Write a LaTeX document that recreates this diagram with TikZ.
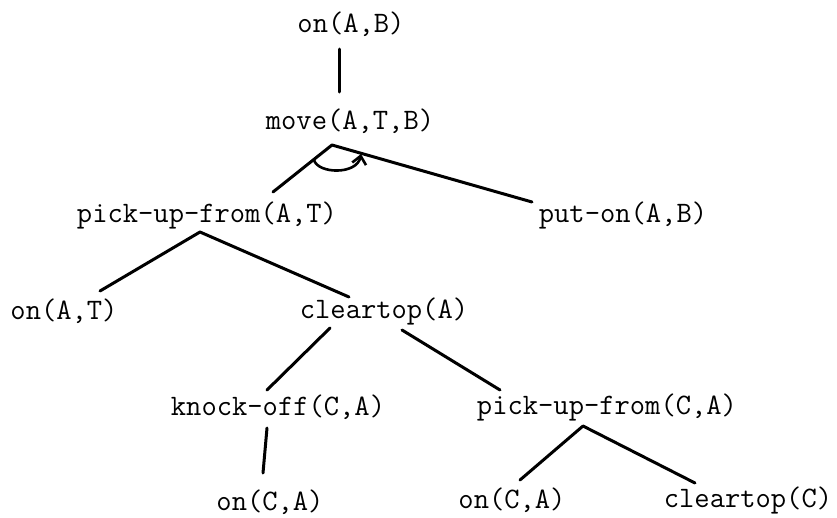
\documentclass[tikz,border=0pt]{standalone}
\usetikzlibrary{calc,arrows.meta}
\begin{document}
\begin{tikzpicture}[x=1pt,y=-1pt,
  lbl/.style={inner sep=0pt,anchor=center,font=\ttfamily\fontsize{29.7}{34}\selectfont},
  edge/.style={line width=3pt,line cap=round,line join=round}]
\useasboundingbox (0,0) rectangle (837,517);
\node[lbl] (onAB) at (351,24) {on(A,B)};
\node[lbl] (move) at (350,121) {move(A,T,B)};
\node[lbl] (puAT) at (207,215) {pick-up-from(A,T)};
\node[lbl] (putAB) at (623,215) {put-on(A,B)};
\node[lbl] (onAT) at (64,311) {on(A,T)};
\node[lbl] (ctA) at (384,311) {cleartop(A)};
\node[lbl] (ko) at (278,407) {knock-off(C,A)};
\node[lbl] (puCA) at (607,407) {pick-up-from(C,A)};
\node[lbl] (onCAa) at (270,502) {on(C,A)};
\node[lbl] (onCAb) at (512,500) {on(C,A)};
\node[lbl] (ctC) at (748,500) {cleartop(C)};
% edges
\draw[edge] ($(onAB)+(-12,25)$) -- ($(move)+(-11,-29)$);
\draw[edge] ($(puAT)+(66,-23)$) -- ($(move)+(-18,24)$) -- ($(putAB)+(-91,-13)$);
\draw[line width=2.6pt,-{Straight Barb[length=8pt,width=14pt,line width=2.6pt]}] ($(move)+(-36,39)$) .. controls ($(move)+(-32,53)$) and ($(move)+(7,54)$) .. ($(move)+(11,33)$);
\draw[edge] ($(onAT)+(36,-20)$) -- ($(puAT)+(-7,17)$) -- ($(ctA)+(-35,-14)$);
\draw[edge] ($(ctA)+(-54,17)$) -- ($(ko)+(-11,-17)$);
\draw[edge] ($(ctA)+(18,19)$) -- ($(puCA)+(-107,-17)$);
\draw[edge] ($(ko)+(-11,21)$) -- ($(onCAa)+(-7,-29)$);
\draw[edge] ($(onCAb)+(8,-20)$) -- ($(puCA)+(-24,19)$) -- ($(ctC)+(-53,-17)$);
\end{tikzpicture}
\end{document}
